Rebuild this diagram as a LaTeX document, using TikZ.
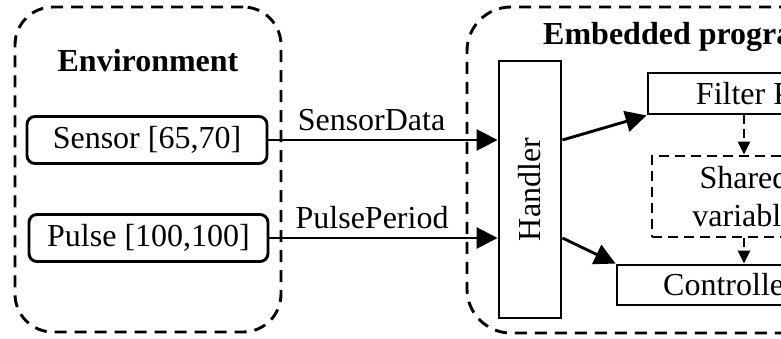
\documentclass[tikz,border=0pt]{standalone}
\usepackage{fontspec}
\setmainfont{Liberation Serif}
\usetikzlibrary{arrows.meta}
\begin{document}
\begin{tikzpicture}[x=1pt,y=-1pt,
  every node/.style={font=\fontsize{32}{38}\selectfont},
  group/.style={draw, line width=2.9pt, dash pattern=on 12pt off 8pt, inner sep=0pt},
  envbox/.style={draw, line width=2.9pt, rounded corners=8pt, inner sep=0pt},
  procbox/.style={draw, line width=2.9pt, inner sep=0pt},
  sharedbox/.style={draw, line width=2.9pt, dash pattern=on 10pt off 6pt, inner sep=0pt, align=center},
  bigarrow/.style={line width=2.9pt, -{Triangle[length=21pt,width=21pt]}},
  dasharrow/.style={line width=2.9pt, dash pattern=on 9pt off 5pt, -{Triangle[length=13pt,width=12pt]}},
  lbl/.style={above, inner sep=8pt}
]
\useasboundingbox (0,0) rectangle (781,339);
\clip (0,0) rectangle (781,339);
% groups
\node[group, rounded corners=38pt, minimum width=266pt, minimum height=325pt] (env) at (148,169.5) {};
\node[group, rounded corners=44pt, minimum width=428pt, minimum height=326pt] (emb) at (681,170) {};
\node[font=\fontsize{32}{38}\selectfont\bfseries, anchor=base] (envtitle) at (148,72) {Environment};
\node[font=\fontsize{32}{38}\selectfont\bfseries, anchor=base west, inner sep=0pt] (embtitle) at (543,45) {Embedded program};
% environment boxes
\node[envbox, minimum width=240pt, minimum height=47pt] (sensor) at (147,140) {Sensor [65,70]};
\node[envbox, minimum width=239pt, minimum height=47pt] (pulse) at (148.5,238) {Pulse [100,100]};
% program boxes
\node[procbox, minimum width=62pt, minimum height=257pt] (handler) at (530,189.5) {};
\node[rotate=90] (handlertext) at (handler.center) {Handler};
\node[procbox, minimum width=271pt, minimum height=41pt] (filter) at (783.5,93.5) {Filter Process};
\node[sharedbox, minimum width=184pt, minimum height=81pt] (shared) at (744,196.5) {Shared\\variable};
\node[procbox, minimum width=224pt, minimum height=40pt] (controller) at (729,285) {Controller};
% connectors
\draw[bigarrow] (sensor.east) -- node[lbl, pos=0.45] (sdlbl) {SensorData} (sensor.east -| handler.west);
\draw[bigarrow] (pulse.east) -- node[lbl, pos=0.45] (pplbl) {PulsePeriod} (pulse.east -| handler.west);
\draw[bigarrow] (sensor.east -| handler.east) -- (filter.south west);
\draw[bigarrow] (pulse.east -| handler.east) -- (controller.north west);
\draw[dasharrow] (filter.south -| shared.north) -- (shared.north);
\draw[dasharrow] (shared.south) -- (shared.south |- controller.north);
\end{tikzpicture}
\end{document}
